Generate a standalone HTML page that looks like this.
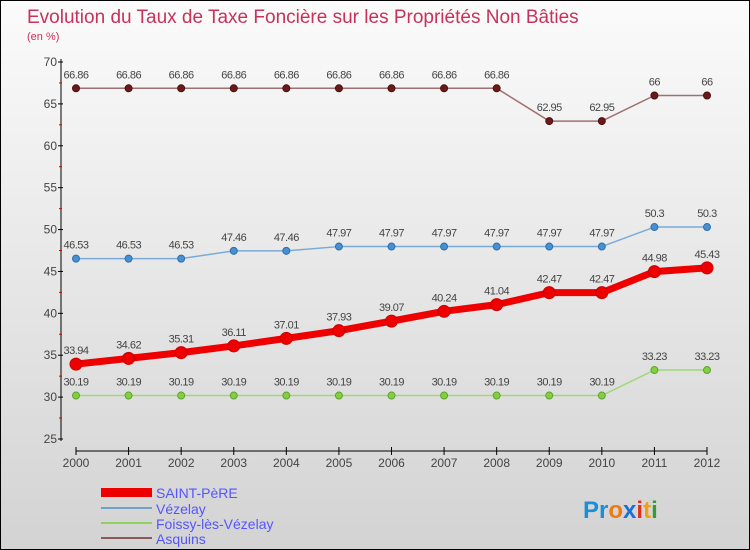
<!DOCTYPE html>
<html><head><meta charset="utf-8"><style>
body{margin:0}
#c{width:750px;height:550px;position:relative;box-sizing:border-box;border:1px solid #000;background:linear-gradient(#fbfbfb,#d3d3d3);font-family:"Liberation Sans",sans-serif;overflow:hidden}
</style></head><body>
<div id="c">
<svg id="s" width="750" height="550" style="position:absolute;left:0;top:0">
<text x="26" y="22" font-size="19" fill="#c8325a">Evolution du Taux de Taxe Foncière sur les Propriétés Non Bâties</text>
<text x="26" y="39" font-size="11" fill="#c8325a">(en %)</text>
<g id="axes"></g><g id="series"></g>
<g font-size="14" fill="#5555ff">
<rect x="100" y="487" width="51" height="9" fill="#e00"/>
<text x="155" y="497">SAINT-PèRE</text>
<rect x="100" y="506" width="51" height="2" fill="#6fa0c8"/>
<text x="155" y="513">Vézelay</text>
<rect x="100" y="521" width="51" height="2" fill="#8fd060"/>
<text x="155" y="528">Foissy-lès-Vézelay</text>
<rect x="100" y="536" width="51" height="2" fill="#8b5a5a"/>
<text x="155" y="543">Asquins</text>
</g>
<text x="582" y="517" font-size="24" font-weight="bold"><tspan fill="#1a8fd8">Pr</tspan><tspan fill="#f07a10">o</tspan><tspan fill="#1a6fd8">x</tspan><tspan fill="#e03020">i</tspan><tspan fill="#f0a010">t</tspan><tspan fill="#30a030">i</tspan></text>
</svg>
</div>
<script>
const years=["2000","2001","2002","2003","2004","2005","2006","2007","2008","2009","2010","2011","2012"];
const yTicks=[25,30,35,40,45,50,55,60,65,70];
const saintPere=[33.94,34.62,35.31,36.11,37.01,37.93,39.07,40.24,41.04,42.47,42.47,44.98,45.43];
const vezelay=[46.53,46.53,46.53,47.46,47.46,47.97,47.97,47.97,47.97,47.97,47.97,50.3,50.3];
const foissy=[30.19,30.19,30.19,30.19,30.19,30.19,30.19,30.19,30.19,30.19,30.19,33.23,33.23];
const asquins=[66.86,66.86,66.86,66.86,66.86,66.86,66.86,66.86,66.86,62.95,62.95,66,66];
const NS="http://www.w3.org/2000/svg";
const X=i=>75+i*(706-75)/12;
const Y=v=>438-(v-25)*(438-61)/45;
function mk(t,a,p){const e=document.createElementNS(NS,t);for(const k in a)e.setAttribute(k,a[k]);p.appendChild(e);return e;}
const ax=document.getElementById('axes');
const yl=mk('line',{x1:60,y1:58,x2:60,y2:440,stroke:'#000'},ax);


yTicks.forEach((v,i)=>{
 mk('line',{x1:57,x2:62,y1:Y(v),y2:Y(v),stroke:'#000'},ax);
 if(i<yTicks.length-1)mk('line',{x1:58,x2:61,y1:Y(v+2.5),y2:Y(v+2.5),stroke:'#d00'},ax);
 const t=mk('text',{x:56,y:Y(v)+4,'text-anchor':'end','font-size':12,fill:'#444'},ax);
 
 
 t.textContent=v;
});
const xl=mk('line',{x1:75,y1:450,x2:706,y2:450,stroke:'#000'},ax);


years.forEach((y,i)=>{
 mk('line',{x1:X(i),x2:X(i),y1:446,y2:454,stroke:'#000'},ax);
 const t=mk('text',{x:X(i),y:466,'text-anchor':'middle','font-size':12,fill:'#444'},ax);
 
 
 t.textContent=y;
});
const sg=document.getElementById('series');
function draw(data,name,col,w,dot,dotStroke,r){
 const g=mk('g',{},sg);
 
 
 const l=mk('polyline',{points:data.map((v,i)=>X(i)+','+Y(v)).join(' '),fill:'none',stroke:col,'stroke-width':w,'stroke-linejoin':'round'},g);
 
 
 data.forEach((v,i)=>{
  const c=mk('circle',{cx:X(i),cy:Y(v),r:r,fill:dot,stroke:dotStroke,'stroke-width':1},g);
  
  
  const t=mk('text',{x:X(i),y:Y(v)-10,'text-anchor':'middle','font-size':11,fill:'#444','letter-spacing':'-0.5'},g);
  
  
  t.textContent=v;
 });
}
draw(asquins,'asquins','#a07070',1.5,'#6b1a1a','#4a1010',3.5);
draw(vezelay,'vezelay','#7aaad8',1.5,'#4a90d0','#2a70b0',3.5);
draw(foissy,'foissy','#a0d878',1.5,'#80d040','#60a030',3.5);
draw(saintPere,'saint-pere','#ee0000',7,'#ee0000','#cc0000',6);
</script>
</body></html>
